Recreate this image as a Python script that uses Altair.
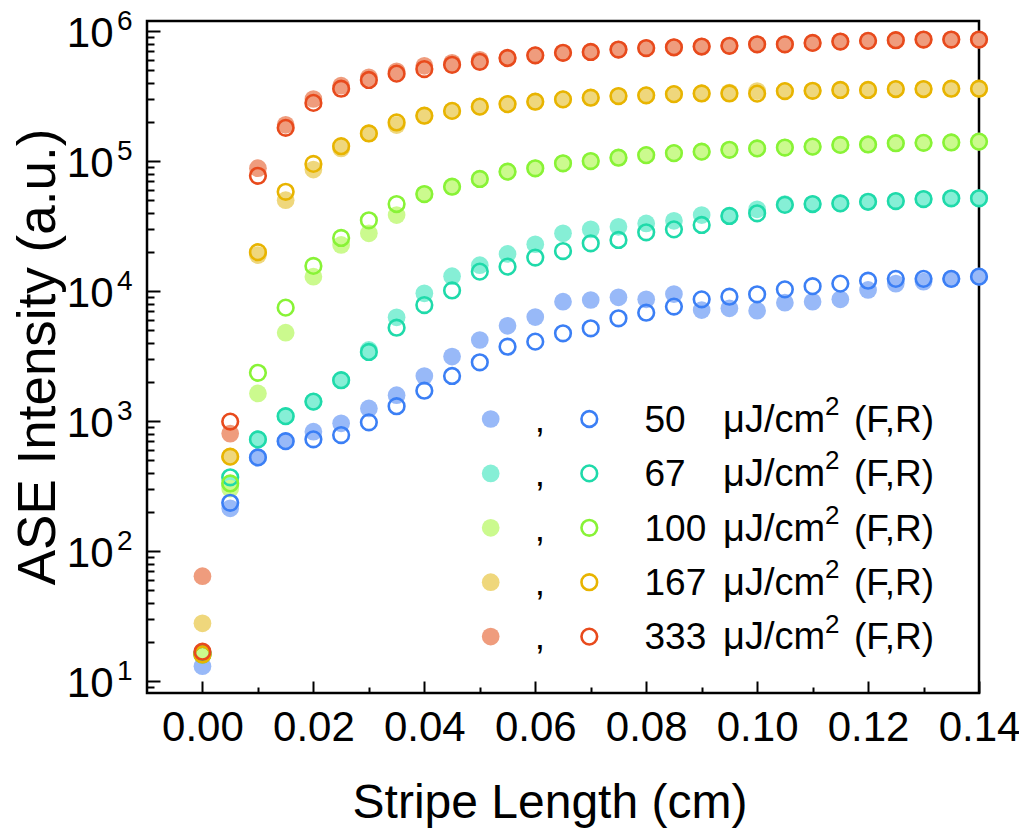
import altair as alt
import pandas as pd

# ---------------- data ----------------
x_cm = [0.000, 0.005, 0.010, 0.015, 0.020, 0.025, 0.030, 0.035, 0.040, 0.045,
        0.050, 0.055, 0.060, 0.065, 0.070, 0.075, 0.080, 0.085, 0.090, 0.095,
        0.100, 0.105, 0.110, 0.115, 0.120, 0.125, 0.130, 0.135, 0.140]

fluence = ["50", "67", "100", "167", "333"]

f50 = [13, 213, 525, 700, 828, 960, 1250, 1580, 2220, 3130,
       4200, 5400, 6300, 8280, 8530, 8940, 8630, 9480, 7140, 7360,
       7060, 8130, 8280, 8630, 10200, 11400, 11800, 12400, 12900]
r50 = [16, 235, 525, 700, 723, 780, 977, 1300, 1710, 2220,
       2830, 3730, 4080, 4730, 5170, 6170, 6810, 7590, 8630, 9040,
       9440, 10300, 10900, 11400, 12000, 12400, 12400, 12400, 12900]

f67 = [16.5, 320, 722, 1090, 1410, 2060, 3520, 6280, 9600, 13000,
       15800, 19300, 22900, 27800, 29800, 31200, 33100, 34700, 38400, 37800,
       42500, 46700, 46700, 47200, 48600, 49200, 51000, 51700, 51700]
r67 = [16.5, 369, 722, 1090, 1410, 2060, 3400, 5220, 7800, 10100,
       14100, 15400, 18100, 20300, 23300, 24700, 28300, 29800, 32200, 37800,
       39600, 46000, 46700, 47200, 48600, 49200, 51000, 51700, 51700]

f100 = [16, 302, 1630, 4780, 12900, 22600, 27800, 38400, 55700, 63400,
        72800, 82800, 87900, 96000, 100000, 106000, 111000, 115000, 118000, 122000,
        125000, 127000, 129000, 133000, 134000, 137000, 138000, 139000, 141000]
r100 = [16, 331, 2350, 7450, 15600, 25600, 35000, 46700, 55700, 63400,
        72800, 82800, 87900, 96000, 100000, 106000, 111000, 115000, 118000, 122000,
        125000, 127000, 129000, 133000, 134000, 137000, 138000, 139000, 141000]

f167 = [27.8, 532, 18900, 50000, 86000, 125000, 163000, 189000, 223000, 243000,
        262000, 274000, 286000, 298000, 307000, 316000, 320000, 327000, 331000, 336000,
        345000, 345000, 347000, 352000, 352000, 358000, 358000, 360000, 360000]
r167 = [16, 532, 19900, 58000, 95000, 130000, 163000, 198000, 223000, 243000,
        262000, 274000, 286000, 298000, 307000, 316000, 320000, 327000, 331000, 331000,
        330000, 345000, 347000, 352000, 352000, 358000, 358000, 360000, 360000]

f333 = [64, 800, 88000, 190000, 300000, 380000, 440000, 490000, 540000, 570000,
        600000, 620000, 650000, 680000, 690000, 720000, 740000, 750000, 760000, 770000,
        790000, 790000, 810000, 830000, 840000, 850000, 860000, 860000, 860000]
r333 = [16.8, 990, 77000, 180000, 280000, 360000, 420000, 470000, 510000, 550000,
        580000, 620000, 650000, 680000, 690000, 720000, 740000, 750000, 760000, 770000,
        790000, 790000, 810000, 830000, 840000, 850000, 860000, 860000, 860000]

forward = [f50, f67, f100, f167, f333]
reverse = [r50, r67, r100, r167, r333]

fill_colors = ["#98b9f8", "#86efd6", "#cbfa8e", "#efd77c", "#ef9c7d"]
stroke_colors = ["#3b7ff5", "#1fdaaa", "#88f336", "#e8b400", "#e84a1c"]

decades = [10, 100, 1000, 10000, 100000, 1000000]
exponents = ["1", "2", "3", "4", "5", "6"]
x_major = [0.00, 0.02, 0.04, 0.06, 0.08, 0.10, 0.12, 0.14]
x_minor = [0.01, 0.03, 0.05, 0.07, 0.09, 0.11, 0.13]
y_minor = [9] + [m * 10 ** k for k in range(1, 6) for m in range(2, 10)]

# ---------------- tables ----------------
df_f = pd.DataFrame([{"x": x, "v": v, "series": s}
                     for s, vals in zip(fluence, forward) for x, v in zip(x_cm, vals)])
df_r = pd.DataFrame([{"x": x, "v": v, "series": s}
                     for s, vals in zip(fluence, reverse) for x, v in zip(x_cm, vals)])
df_dec = pd.DataFrame({"v": decades, "e": exponents})
df_leg = pd.DataFrame({"series": fluence, "idx": list(range(len(fluence)))})

FONT = "Liberation Sans"
xscale = alt.Scale(domain=[-0.01, 0.14], nice=False, zero=False)
yscale = alt.Scale(type="log", domain=[8.09, 1.194e6], nice=False)
fill_scale = alt.Scale(domain=fluence, range=fill_colors)
stroke_scale = alt.Scale(domain=fluence, range=stroke_colors)

common_axis = dict(domain=False, grid=False, title=None, tickColor="black",
                   tickWidth=2)

filled = alt.Chart(df_f).mark_circle(size=314, opacity=1).encode(
    x=alt.X("x:Q", scale=xscale,
            axis=alt.Axis(values=x_major, format=".2f", tickSize=12, offset=-12,
                          labelFont=FONT, labelFontSize=42, labelColor="black",
                          labelPadding=14, labelFlush=False, labelOverlap=False,
                          orient="bottom", **common_axis)),
    y=alt.Y("v:Q", scale=yscale,
            axis=alt.Axis(values=decades, tickSize=13, offset=-13, labels=False,
                          orient="left", **common_axis)),
    fill=alt.Fill("series:N", scale=fill_scale, legend=None),
)

opened = alt.Chart(df_r).mark_point(shape="circle", filled=False, size=245,
                                    strokeWidth=2.6, opacity=1).encode(
    x=alt.X("x:Q", scale=xscale,
            axis=alt.Axis(values=x_minor, tickSize=6, offset=-6, labels=False,
                          orient="bottom", **common_axis)),
    y=alt.Y("v:Q", scale=yscale,
            axis=alt.Axis(values=y_minor, tickSize=7, offset=-7, labels=False,
                          orient="left", **common_axis)),
    stroke=alt.Stroke("series:N", scale=stroke_scale, legend=None),
)

# y tick labels 10^n
ylab_base = alt.Chart(df_dec).mark_text(
    text="10", font=FONT, fontSize=42, align="right", baseline="alphabetic",
    dy=15.5, color="black").encode(
    x=alt.value(-33.5), y=alt.Y("v:Q", scale=yscale, axis=None))
ylab_exp = alt.Chart(df_dec).mark_text(
    font=FONT, fontSize=28, align="left", baseline="alphabetic",
    dy=-1, color="black").encode(
    x=alt.value(-30), y=alt.Y("v:Q", scale=yscale, axis=None), text="e:N")

# axis titles
xtitle = alt.Chart(df_dec).transform_filter("datum.v == 10").mark_text(
    text="Stripe Length (cm)", font=FONT, fontSize=48, align="center",
    baseline="alphabetic", color="black").encode(
    x=alt.value(403), y=alt.value(797))
ytitle = alt.Chart(df_dec).transform_filter("datum.v == 10").mark_text(
    text="ASE Intensity (a.u.)", font=FONT, fontSize=53, align="center",
    baseline="alphabetic", angle=270, color="black").encode(
    x=alt.value(-92), y=alt.value(336))

# custom legend
leg = alt.Chart(df_leg).transform_calculate(
    ly="398 + 54.4 * datum.idx",
    lyb="398 + 54.4 * datum.idx + 12.7",
    lys="398 + 54.4 * datum.idx - 4")
leg_fill = leg.mark_circle(size=314, opacity=1).encode(
    x=alt.value(343.7), y=alt.Y("ly:Q", scale=None, axis=None),
    fill=alt.Fill("series:N", scale=fill_scale, legend=None))
leg_open = leg.mark_point(shape="circle", filled=False, size=245,
                          strokeWidth=2.6, opacity=1).encode(
    x=alt.value(442.3), y=alt.Y("ly:Q", scale=None, axis=None),
    stroke=alt.Stroke("series:N", scale=stroke_scale, legend=None))
txt = dict(font=FONT, fontSize=37, baseline="alphabetic", color="black")
leg_comma = leg.mark_text(text=",", align="center", **txt).encode(
    x=alt.value(393), y=alt.Y("lyb:Q", scale=None, axis=None))
leg_num = leg.mark_text(align="left", **txt).encode(
    x=alt.value(497.5), y=alt.Y("lyb:Q", scale=None, axis=None), text="series:N")
leg_unit = leg.mark_text(text="\u03bcJ/cm", align="left", font=FONT, fontSize=38,
                         baseline="alphabetic", color="black").encode(
    x=alt.value(576), y=alt.Y("lyb:Q", scale=None, axis=None))
leg_sup = leg.mark_text(text="2", align="left", font=FONT, fontSize=26,
                        baseline="alphabetic", color="black").encode(
    x=alt.value(678), y=alt.Y("lys:Q", scale=None, axis=None))
leg_fr = leg.mark_text(text="(F,R)", align="left", **txt).encode(
    x=alt.value(707), y=alt.Y("lyb:Q", scale=None, axis=None))

chart = alt.layer(
    filled, opened, ylab_base, ylab_exp, xtitle, ytitle,
    leg_fill, leg_open, leg_comma, leg_num, leg_unit, leg_sup, leg_fr,
).resolve_axis(x="independent", y="independent").properties(
    width=832, height=672,
    padding={"left": 139, "top": 13, "right": 40, "bottom": 136},
    autosize=alt.AutoSizeParams(type="none"),
    background="white",
).configure_view(stroke="black", strokeWidth=2.5)

chart.save("out.html", embed_options={"renderer": "svg", "actions": False})
